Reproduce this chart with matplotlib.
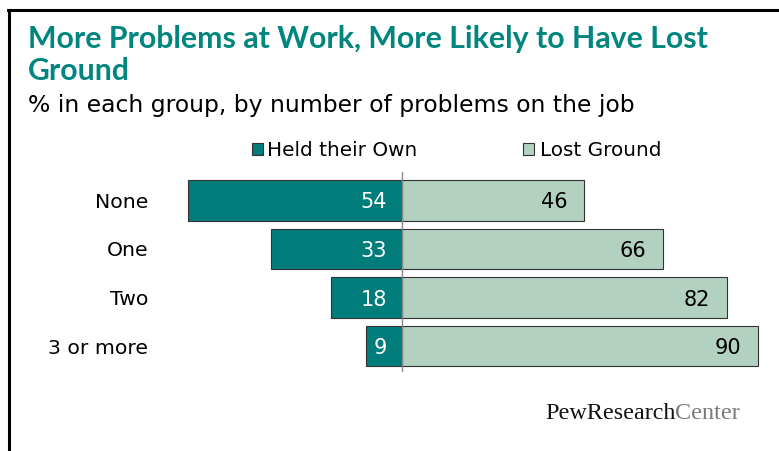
import matplotlib
matplotlib.use("Agg")
import matplotlib.pyplot as plt
from matplotlib.patches import Rectangle
from matplotlib.lines import Line2D

categories = ["None", "One", "Two", "3 or more"]
held_own = [54, 33, 18, 9]
lost_ground = [46, 66, 82, 90]
series_names = ["Held their Own", "Lost Ground"]

title_lines = ["More Problems at Work, More Likely to Have Lost", "Ground"]
subtitle = "% in each group, by number of problems on the job"

W, H = 779, 451
DPI = 100
TEAL = "#007C7A"
LIGHT = "#B3D1C1"
TITLE_COLOR = "#00857F"
SANS = "DejaVu Sans"

fig = plt.figure(figsize=(W / DPI, H / DPI), dpi=DPI)
fig.patch.set_facecolor("white")

def fx(px):
    return px / W

def fy(py):
    return 1 - py / H

# frame lines (top and left)
fig.add_artist(Line2D([fx(8), fx(779)], [fy(10), fy(10)], color="black", lw=2.2, transform=fig.transFigure))
fig.add_artist(Line2D([fx(9), fx(9)], [fy(10), fy(451)], color="black", lw=2.2, transform=fig.transFigure))

# axes in pixel geometry
ax_left, ax_right = 150, 770
ax_top, ax_bottom = 172, 372
ax = fig.add_axes([fx(ax_left), fy(ax_bottom), (ax_right - ax_left) / W, (ax_bottom - ax_top) / H])
ax.set_axis_off()

center_px = 402
px_per_unit = 3.96
ax.set_xlim((ax_left - center_px) / px_per_unit, (ax_right - center_px) / px_per_unit)
first_c, spacing = 200.5, 48.5
ax.set_ylim((ax_bottom - first_c) / spacing, (ax_top - first_c) / spacing)

ypos = list(range(len(categories)))
bh = 0.83
ax.barh(ypos, [-v for v in held_own], height=bh, color=TEAL, edgecolor="#333333", linewidth=0.8)
ax.barh(ypos, lost_ground, height=bh, color=LIGHT, edgecolor="#333333", linewidth=0.8)
ax.axvline(0, color="#888888", lw=1.0)

for i, (h, l) in enumerate(zip(held_own, lost_ground)):
    ax.text(-3.8, i, str(h), ha="right", va="center_baseline", color="white", fontsize=15, family=SANS)
    ax.text(l - 4.3, i, str(l), ha="right", va="center_baseline", color="black", fontsize=15, family=SANS)
    ax.text((148 - center_px) / px_per_unit, i, categories[i], ha="right", va="center_baseline",
            color="black", fontsize=14.7, family=SANS)

# Title & subtitle
fig.text(fx(28), fy(48), title_lines[0], ha="left", va="baseline", color=TITLE_COLOR, fontsize=21.8,
         fontweight="bold", family="Lato")
fig.text(fx(28), fy(80), title_lines[1], ha="left", va="baseline", color=TITLE_COLOR, fontsize=21.8,
         fontweight="bold", family="Lato")
fig.text(fx(28), fy(112), subtitle, ha="left", va="baseline", color="black", fontsize=16.9, family=SANS)

# legend
fig.add_artist(Rectangle((fx(252), fy(155)), 11 / W, 12 / H, transform=fig.transFigure,
                         facecolor=TEAL, edgecolor="#333333", lw=0.8))
fig.text(fx(267), fy(156), series_names[0], ha="left", va="baseline", fontsize=14.4, family=SANS)
fig.add_artist(Rectangle((fx(523), fy(155)), 11 / W, 12 / H, transform=fig.transFigure,
                         facecolor=LIGHT, edgecolor="#333333", lw=0.8))
fig.text(fx(540), fy(156), series_names[1], ha="left", va="baseline", fontsize=14.4, family=SANS)

# Logo
t1 = fig.text(fx(545), fy(419), "PewResearch", ha="left", va="baseline", fontsize=17.4,
              family="Liberation Serif", color="#111111")
fig.canvas.draw()
bb = t1.get_window_extent()
fig.text(bb.x1 / W, fy(419), "Center", ha="left", va="baseline", fontsize=17.4,
         family="Liberation Serif", color="#7a7a7a")

fig.savefig("out.png", dpi=DPI)
